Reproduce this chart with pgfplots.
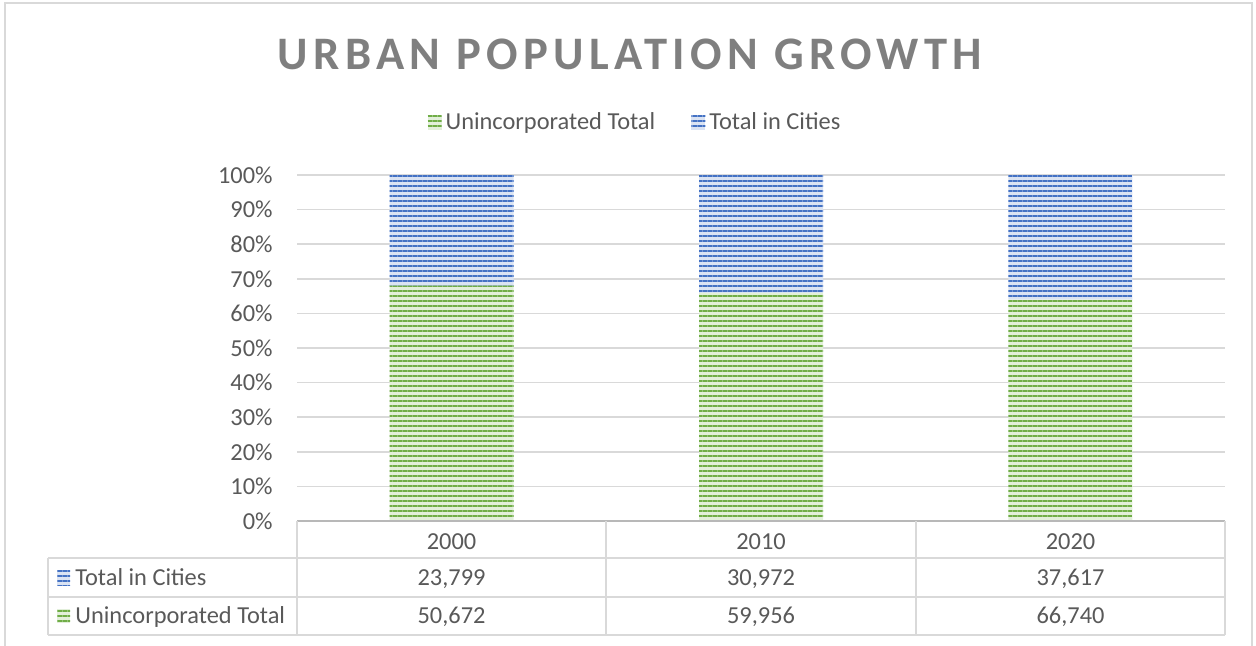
\documentclass[border=0pt]{standalone}
\usepackage{fontspec}
\setmainfont{Carlito}
\usepackage{pgfplots}
\pgfplotsset{compat=1.18}
\usetikzlibrary{patterns.meta}
\definecolor{cGreen}{HTML}{70AD47}
\definecolor{cBlue}{HTML}{4472C4}
\definecolor{cText}{HTML}{595959}
\definecolor{cTitle}{HTML}{7F7F7F}
\definecolor{cGrid}{HTML}{D9D9D9}
\tikzset{
  stripe/.style={draw=none, fill=#1!20!white,
    postaction={pattern={Lines[angle=0,distance=2.5pt,line width=1.3pt]}, pattern color=#1}},
}
\begin{document}
\begin{tikzpicture}[font=\fontsize{12.2}{14}\selectfont, text=cText]
% 1 px of the reference = 0.5pt, origin at top-left
\path[use as bounding box] (0pt,0pt) rectangle (628pt,-323pt);

\begin{axis}[
    at={(148.5pt,-260.5pt)}, anchor=south west,
    scale only axis, width=464pt, height=173pt,
    ybar stacked, bar width=62pt,
    xmin=-0.5, xmax=2.5, ymin=0, ymax=100,
    xtick=\empty,
    ytick={0,10,...,100},
    yticklabels={0\%,10\%,20\%,30\%,40\%,50\%,60\%,70\%,80\%,90\%,100\%},
    yticklabel style={text=cText, font=\fontsize{12.2}{14}\selectfont, inner sep=0pt, xshift=-12pt},
    axis line style={draw=none},
    major tick length=0pt,
    ymajorgrids, grid style={cGrid, line width=0.8pt},
    legend columns=2,
    legend style={at={(axis description cs:0.5,1)}, anchor=center, xshift=-62.5pt, yshift=26pt,
      draw=none, fill=none, font=\fontsize{12.2}{14}\selectfont, text=cText,
      /tikz/every even column/.append style={column sep=16pt},
      inner sep=0pt},
    legend image code/.code={\path[#1] (0pt,-3.5pt) rectangle (7pt,3.5pt);},
]
\addplot[stripe=cGreen] coordinates {(0,68.04) (1,65.94) (2,63.95)};
\addlegendentry{Unincorporated Total}
\addplot[stripe=cBlue] coordinates {(0,31.96) (1,34.06) (2,36.05)};
\addlegendentry{Total in Cities}
\end{axis}

\begin{scope}[x=0.5pt, y=-0.5pt]
% chart frame
\draw[cGrid, line width=1pt] (5,646) -- (5,3) -- (1252,3) -- (1252,646);
% title
\node[anchor=base, text=cTitle, font=\fontsize{23.3}{28}\selectfont\bfseries\addfontfeature{LetterSpace=11.5}]
  at (630,70) {URBAN POPULATION GROWTH};
% data table
\begin{scope}[cGrid, line width=1pt]
  \draw[line width=1.3pt, color=cGrid!85!black] (297,521) -- (1225,521);
  \draw (48,558) -- (1225,558);
  \draw (48,597) -- (1225,597);
  \draw (48,635) -- (1225,635);
  \draw (48,558) -- (48,635);
  \foreach \xx in {297,606,916,1225} \draw (\xx,521) -- (\xx,635);
\end{scope}
\path[stripe=cBlue] (57,570) rectangle (70,585);
\path[stripe=cGreen] (57,609) rectangle (70,623);
\node[anchor=base west, inner sep=0pt] at (75,585) {Total in Cities};
\node[anchor=base west, inner sep=0pt] at (75,623) {Unincorporated Total};
\foreach \cx/\yr/\tc/\ut in {451.5/2000/{23,799}/{50,672}, 761/2010/{30,972}/{59,956}, 1070.5/2020/{37,617}/{66,740}}{
  \node[anchor=base, inner sep=0pt] at (\cx,549) {\yr};
  \node[anchor=base, inner sep=0pt] at (\cx,585) {\tc};
  \node[anchor=base, inner sep=0pt] at (\cx,623) {\ut};
}
\end{scope}
\end{tikzpicture}
\end{document}
